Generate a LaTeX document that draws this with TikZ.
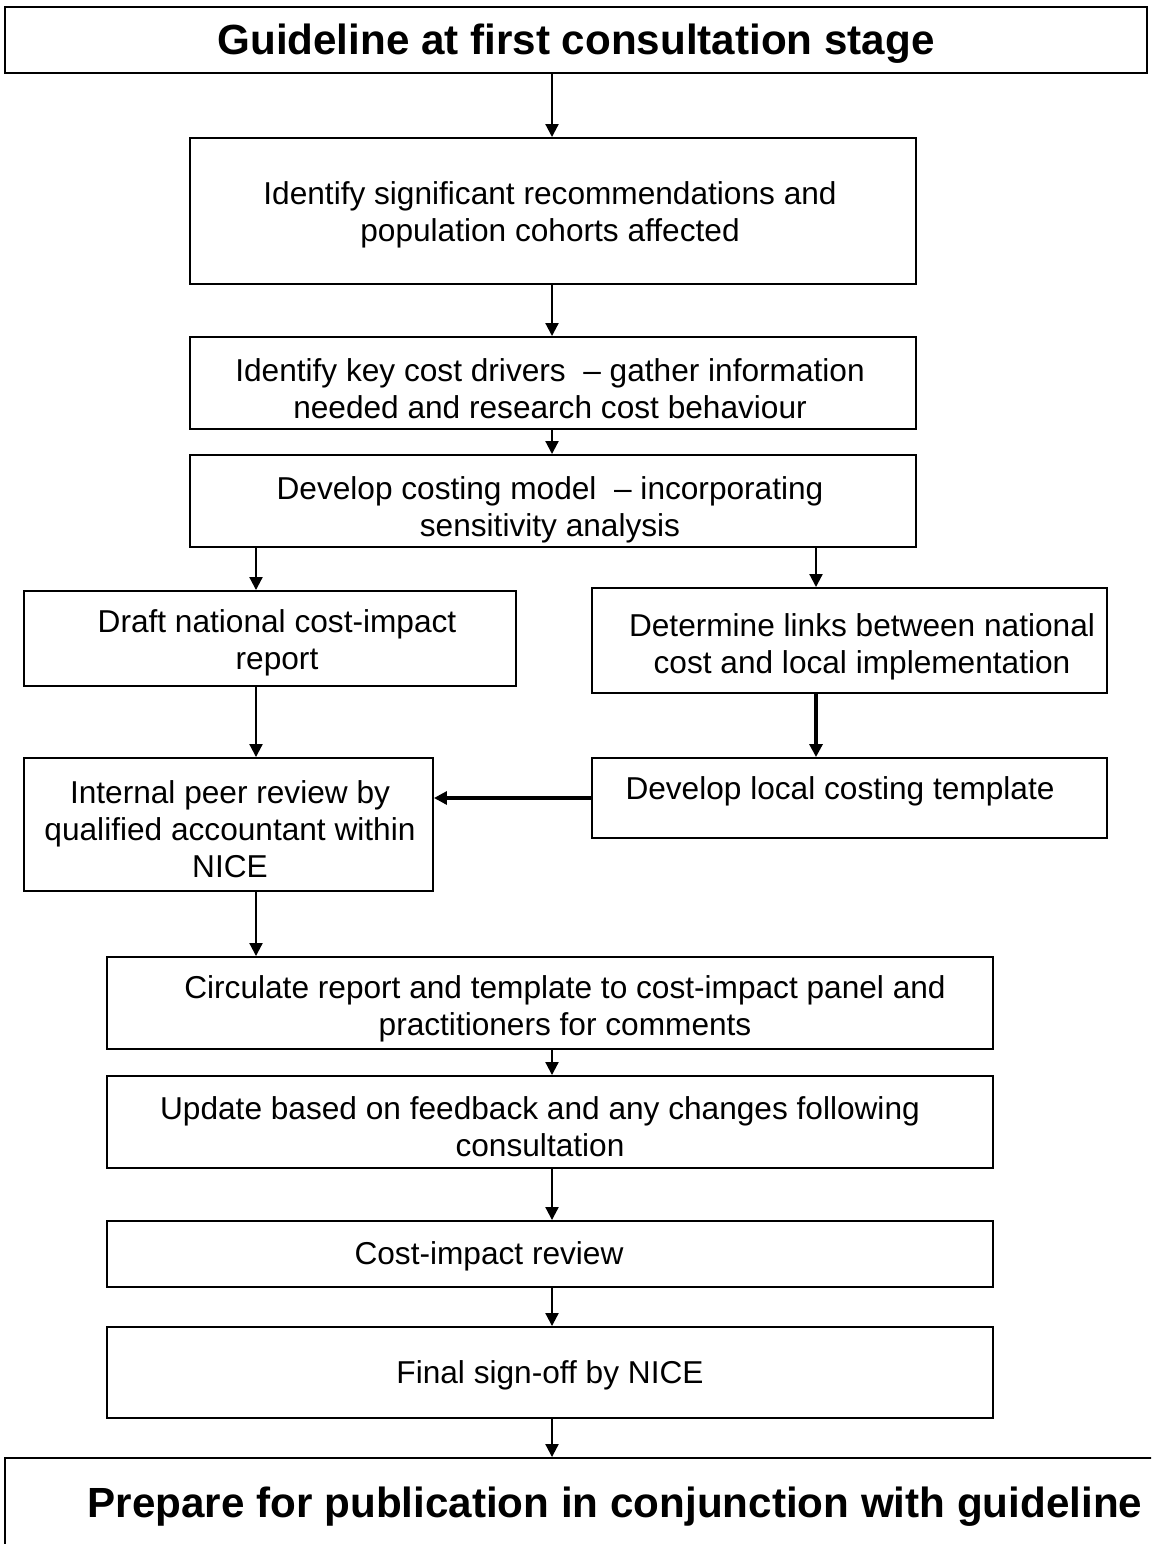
\documentclass[tikz,border=0pt]{standalone}
\usepackage{fontspec}
\setmainfont{Liberation Sans}
\usetikzlibrary{arrows.meta,fit}

\begin{document}
\begin{tikzpicture}[x=0.2mm,y=-0.2mm,
  box/.style={draw,line width=1.1pt,inner sep=0pt},
  txt/.style={align=center,font=\fontsize{18}{21}\selectfont},
  head/.style={align=center,font=\fontsize{24}{28}\selectfont\bfseries},
  arr/.style={draw,-{Triangle[length=2.6mm,width=2.6mm]},line width=1.2pt},
  thick arr/.style={arr,line width=1.8pt}]
\useasboundingbox (0,0) rectangle (1151,1544);
\clip (0,0) rectangle (1151,1544);

\coordinate (lcol) at (256,0);
\coordinate (mcol) at (552,0);
\coordinate (rcol) at (816,0);

\node (top) [box, fit={(5,7) (1147,73)}] {};
\node (top-t) [head] at (576,44) {Guideline at first consultation stage};
\node (sig) [box, fit={(190,138) (916,284)}] {};
\node (sig-t) [txt] at (550,215) {Identify significant recommendations and\\population cohorts affected};
\node (drv) [box, fit={(190,337) (916,429)}] {};
\node (drv-t) [txt] at (550,389) {Identify key cost drivers~ – gather information\\needed and research cost behaviour};
\node (mdl) [box, fit={(190,455) (916,547)}] {};
\node (mdl-t) [txt] at (550,510) {Develop costing model~ – incorporating\\sensitivity analysis};
\node (dft) [box, fit={(24,591) (516,686)}] {};
\node (dft-t) [txt] at (277,643) {Draft national cost-impact\\report};
\node (lnk) [box, fit={(592,588) (1107,693)}] {};
\node (lnk-t) [txt] at (862,647) {Determine links between national\\cost and local implementation};
\node (tpl) [box, fit={(592,758) (1107,838)}] {};
\node (tpl-t) [txt] at (840,791) {Develop local costing template};
\node (peer) [box, fit={(24,758) (433,891)}] {};
\node (peer-t) [txt] at (230,829) {Internal peer review by\\qualified accountant within\\NICE};
\node (circ) [box, fit={(107,957) (993,1049)}] {};
\node (circ-t) [txt] at (565,1009) {Circulate report and template to cost-impact panel and\\practitioners for comments};
\node (upd) [box, fit={(107,1076) (993,1168)}] {};
\node (upd-t) [txt] at (540,1127) {Update based on feedback and any changes following\\consultation};
\node (rev) [box, fit={(107,1221) (993,1287)}] {};
\node (rev-t) [txt] at (489,1256) {Cost-impact review};
\node (fin) [box, fit={(107,1327) (993,1418)}] {};
\node (fin-t) [txt] at (550,1375) {Final sign-off by NICE};
\node (pub) [box, fit={(5,1458) (1225,1600)}] {};
\node (pub-t) [head] at (615,1507) {Prepare for publication in conjunction with guideline};

\path
(top.south -| mcol) edge[arr] (sig.north -| mcol)
(sig.south -| mcol) edge[arr] (drv.north -| mcol)
(drv.south -| mcol) edge[arr] (mdl.north -| mcol)
(mdl.south -| lcol) edge[arr] (dft.north -| lcol)
(mdl.south -| rcol) edge[arr] (lnk.north -| rcol)
(dft.south -| lcol) edge[arr] (peer.north -| lcol)
(peer.south -| lcol) edge[arr] (circ.north -| lcol)
(circ.south -| mcol) edge[arr] (upd.north -| mcol)
(upd.south -| mcol) edge[arr] (rev.north -| mcol)
(rev.south -| mcol) edge[arr] (fin.north -| mcol)
(fin.south -| mcol) edge[arr] (pub.north -| mcol)
(lnk.south -| rcol) edge[thick arr] (tpl.north -| rcol)
(tpl.west) edge[thick arr] (peer.east |- tpl.west);
\end{tikzpicture}
\end{document}
